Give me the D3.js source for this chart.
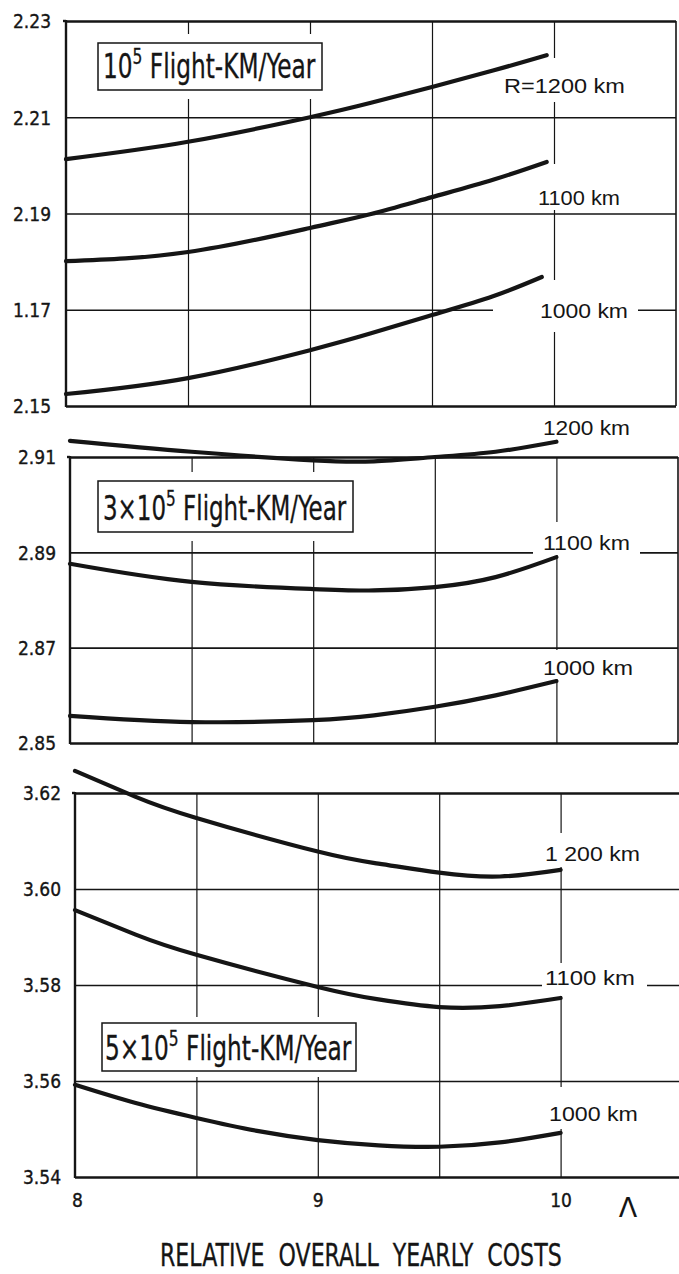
<!DOCTYPE html>
<html><head><meta charset="utf-8">
<script src="https://cdn.jsdelivr.net/npm/d3@7"></script>
<style>body{margin:0;background:#fff} svg{display:block}</style>
</head><body>
<svg id="c" width="679" height="1274"></svg>
<script>
// ---------------- DATA ----------------
const gridX = [8.5, 9, 9.5, 10];
const bottomTicks = [8, 9, 10];
const bottomTickLabels = ["8", "9", "10"];

const p1Ticks = [2.15, 2.17, 2.19, 2.21, 2.23];
const p1TickLabels = ["2.15", "1.17", "2.19", "2.21", "2.23"];
const p2Ticks = [2.85, 2.87, 2.89, 2.91];
const p2TickLabels = ["2.85", "2.87", "2.89", "2.91"];
const p3Ticks = [3.54, 3.56, 3.58, 3.60, 3.62];
const p3TickLabels = ["3.54", "3.56", "3.58", "3.60", "3.62"];

// [relative yearly costs, value]
const p1_1200 = [[8,2.2013],[8.5,2.2049],[9,2.2100],[9.25,2.2130],[9.5,2.2163],[9.75,2.2197],[9.97,2.2229]];
const p1_1100 = [[8,2.1801],[8.5,2.1820],[9,2.1870],[9.25,2.1899],[9.5,2.1934],[9.75,2.1970],[9.97,2.2007]];
const p1_1000 = [[8,2.1525],[8.5,2.1558],[9,2.1616],[9.25,2.1651],[9.5,2.1689],[9.75,2.1728],[9.95,2.1768]];

const p2_1200 = [[8,2.9134],[8.5,2.9111],[9,2.9093],[9.25,2.9091],[9.5,2.9100],[9.75,2.9111],[10,2.9132]];
const p2_1100 = [[8,2.8876],[8.5,2.8838],[9,2.8823],[9.25,2.8820],[9.5,2.8827],[9.75,2.8848],[10,2.8890]];
const p2_1000 = [[8,2.8557],[8.5,2.8544],[9,2.8548],[9.25,2.8558],[9.5,2.8576],[9.75,2.8600],[10,2.8630]];

const p3_1200 = [[8,3.6246],[8.25,3.6192],[8.5,3.6148],[9,3.6078],[9.25,3.6053],[9.5,3.6034],[9.75,3.6026],[10,3.6040]];
const p3_1100 = [[8,3.5956],[8.25,3.5905],[8.5,3.5863],[9,3.5796],[9.25,3.5770],[9.5,3.5754],[9.75,3.5756],[10,3.5773]];
const p3_1000 = [[8,3.5592],[8.25,3.5554],[8.5,3.5523],[8.75,3.5496],[9,3.5477],[9.25,3.5466],[9.5,3.5463],[9.75,3.5472],[10,3.5492]];

const p1Labels = ["R=1200 km", "1100 km", "1000 km"];
const p2Labels = ["1200 km", "1100 km", "1000 km"];
const p3Labels = ["1 200 km", "1100 km", "1000 km"];
const boxTitles = [["10", "5"], ["3×10", "5"], ["5×10", "5"]];
const boxSuffix = " Flight-KM/Year";
const xTitle = "RELATIVE  OVERALL  YEARLY  COSTS";
const xSymbol = "Λ";

// ---------------- LAYOUT ----------------
const INK = "#151515";
const condensed = "'DejaVu Sans Condensed','DejaVu Sans',sans-serif";
const round = "'Liberation Sans','Arimo',Arial,sans-serif";

const panels = [
  { ticks: p1Ticks, tickLabels: p1TickLabels, domain: [2.15, 2.23], yRange: [406, 21], xRange: [66, 676], pad: 15,
    series: [p1_1200, p1_1100, p1_1000], labels: p1Labels,
    labelPos: [[504, 93, 121], [538, 205, 82], [540, 318, 88]],
    masks: [[500, 58, 130, 44], [535, 164, 90, 46], [493, 302, 145, 16], [538, 280, 92, 52]],
    box: { title: boxTitles[0], rect: [98, 43, 224, 47], text: [103, 78, 213], gap: 9 } },
  { ticks: p2Ticks, tickLabels: p2TickLabels, domain: [2.85, 2.91], yRange: [743, 457], xRange: [70, 678], pad: 14,
    series: [p2_1200, p2_1100, p2_1000], labels: p2Labels,
    labelPos: [[543, 435, 87], [543, 550, 87], [543, 675, 90]],
    masks: [[533, 522, 107, 33], [540, 650, 95, 29]],
    box: { title: boxTitles[1], rect: [98, 481, 255, 51], text: [103, 520, 244], gap: 9 } },
  { ticks: p3Ticks, tickLabels: p3TickLabels, domain: [3.54, 3.62], yRange: [1177, 793], xRange: [75, 682], pad: 14,
    series: [p3_1200, p3_1100, p3_1000], labels: p3Labels,
    labelPos: [[545, 861, 95], [545, 985, 90], [549, 1121, 89]],
    masks: [[543, 833, 97, 34], [542, 963, 105, 33], [547, 1087, 93, 42]],
    box: { title: boxTitles[2], rect: [102, 1023, 254, 48], text: [105, 1060, 247], gap: 6 } }
];

const svg = d3.select("#c");

function fitWidth(sel, w) {
  const bb = sel.node().getBBox();
  const s = w / bb.width;
  sel.attr("transform", `translate(${bb.x * (1 - s)},0) scale(${s},1)`);
}

panels.forEach((p, pi) => {
  const x = d3.scaleLinear().domain([8, 10.5]).range(p.xRange);
  const y = d3.scaleLinear().domain(p.domain).range(p.yRange);
  const yTop = y(p.domain[1]), yBot = y(p.domain[0]);
  const xL = x(8), xR = x(10.5);
  const g = svg.append("g");

  // vertical gridlines
  const gx = g.append("g").attr("transform", `translate(0,${yBot})`)
    .call(d3.axisBottom(x).tickValues(gridX).tickSize(-(yBot - yTop)).tickFormat(""));
  gx.select(".domain").remove();
  gx.selectAll(".tick line").attr("stroke", INK).attr("stroke-width", 1.2);

  // horizontal gridlines + tick labels
  const gy = g.append("g").attr("transform", `translate(${xL},0)`)
    .call(d3.axisLeft(y).tickValues(p.ticks).tickFormat((d, i) => p.tickLabels[i])
      .tickSize(-(xR - xL)).tickPadding(p.pad));
  gy.select(".domain").remove();
  gy.selectAll(".tick line").attr("stroke", INK)
    .attr("stroke-width", (d, i) => (i === 0 || i === p.ticks.length - 1) ? 2.4 : 1.6);
  gy.selectAll(".tick text").attr("fill", INK).attr("stroke", INK).attr("stroke-width", 0.35)
    .attr("font-family", condensed).attr("font-size", 19).attr("dy", "0.36em");

  // masks (gaps in gridlines)
  p.masks.forEach(m => g.append("rect").attr("x", m[0]).attr("y", m[1])
    .attr("width", m[2]).attr("height", m[3]).attr("fill", "#fff"));
  const b = p.box;
  g.append("rect").attr("x", b.rect[0] - 2).attr("y", b.rect[1] - b.gap)
    .attr("width", b.rect[2] + 4).attr("height", b.rect[3] + 2 * b.gap).attr("fill", "#fff");

  // borders
  g.append("line").attr("x1", xL).attr("x2", xL).attr("y1", yTop - 1).attr("y2", yBot + 1)
    .attr("stroke", INK).attr("stroke-width", 2.4);
  g.append("line").attr("x1", xL - 3).attr("x2", xL).attr("y1", yTop).attr("y2", yTop)
    .attr("stroke", INK).attr("stroke-width", 2.4);
  g.append("line").attr("x1", xR).attr("x2", xR).attr("y1", yTop).attr("y2", yBot)
    .attr("stroke", INK).attr("stroke-width", 1.6);

  // curves
  const line = d3.line().x(d => x(d[0])).y(d => y(d[1])).curve(d3.curveNatural);
  g.selectAll("path.curve").data(p.series).join("path").attr("class", "curve")
    .attr("d", line).attr("fill", "none").attr("stroke", INK)
    .attr("stroke-width", 4.2).attr("stroke-linecap", "round");

  // curve labels
  p.labels.forEach((t, i) => {
    const lp = p.labelPos[i];
    const tx = g.append("text").attr("x", lp[0]).attr("y", lp[1]).text(t)
      .attr("font-family", round).attr("font-size", 21).attr("fill", INK);
    fitWidth(tx, lp[2]);
  });

  // legend box
  g.append("rect").attr("x", b.rect[0]).attr("y", b.rect[1]).attr("width", b.rect[2]).attr("height", b.rect[3])
    .attr("fill", "#fff").attr("stroke", INK).attr("stroke-width", 1.5);
  const bt = g.append("text").attr("x", b.text[0]).attr("y", b.text[1])
    .attr("font-family", condensed).attr("font-size", 33).attr("fill", INK)
    .attr("stroke", INK).attr("stroke-width", 0.3);
  bt.append("tspan").text(b.title[0]);
  bt.append("tspan").text(b.title[1]).attr("font-size", 22).attr("dy", -14);
  bt.append("tspan").text(boxSuffix).attr("dy", 14);
  fitWidth(bt, b.text[2]);

  // bottom axis labels
  if (pi === 2) {
    const ga = g.append("g").attr("transform", `translate(0,${yBot})`)
      .call(d3.axisBottom(x).tickValues(bottomTicks).tickFormat((d, i) => bottomTickLabels[i])
        .tickSize(0).tickPadding(17));
    ga.select(".domain").remove();
    ga.selectAll(".tick text").attr("fill", INK).attr("stroke", INK).attr("stroke-width", 0.35)
      .attr("font-family", condensed).attr("font-size", 19)
      .attr("dx", (d, i) => i === 0 ? 2 : 0);
    g.append("text").attr("x", 628).attr("y", 1217).attr("text-anchor", "middle")
      .attr("font-family", "'DejaVu Sans',sans-serif").attr("font-size", 27).attr("fill", INK).text(xSymbol);
    const tt = g.append("text").attr("x", 160).attr("y", 1266).attr("font-family", condensed)
      .attr("font-size", 32).attr("fill", INK).attr("stroke", INK).attr("stroke-width", 0.3)
      .style("white-space", "pre").text(xTitle);
    fitWidth(tt, 402);
  }
});
</script>
</body></html>
